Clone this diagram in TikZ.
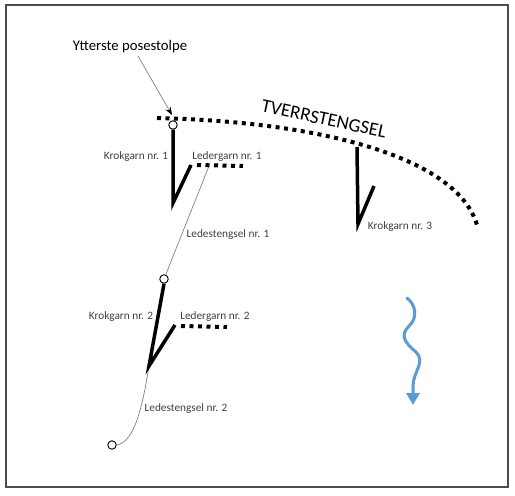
\documentclass[tikz,border=0pt]{standalone}
\usepackage{fontspec}
\setmainfont{Carlito}
\usetikzlibrary{arrows.meta}
\definecolor{lbl}{RGB}{64,64,64}
\definecolor{wave}{RGB}{91,155,213}
\begin{document}
\begin{tikzpicture}[x=1pt,y=-1pt,
  frame/.style={draw=black!70, line width=1.5pt},
  garn/.style={line width=3.5pt, line join=miter, line cap=butt},
  dotline/.style={line width=4pt, dash pattern=on 4pt off 4.5pt},
  stengsel/.style={draw=black!50, line width=0.7pt},
  post/.style={circle, draw, fill=white, line width=0.9pt, minimum size=8.5pt, inner sep=0pt},
  lab/.style={font=\fontsize{11.3}{13}\selectfont, text=lbl, inner sep=0pt},
  wavy/.style={draw=wave, line width=3pt, line cap=round, -{Triangle[length=12pt,width=13pt]}},
]
\useasboundingbox (0,0) rectangle (515,496);
\draw[frame] (6,5) rectangle (508,487);

% Tverrstengsel
\draw[dotline] (157,118) .. controls (330,122) and (458,160) .. (477,225);
\node[font=\fontsize{19}{21}\selectfont, rotate=-12, inner sep=0pt] (tv) at (324,119) {TVERRSTENGSEL};

% coordinates
\coordinate (k1b) at (173,203);
\coordinate (k1t) at (191,165);
\coordinate (l1s) at (197,165);
\coordinate (l1e) at (243,166);
\coordinate (ls1) at (209,166);
\coordinate (k2b) at (149,366);
\coordinate (k2t) at (175,325);
\coordinate (l2s) at (181,326);
\coordinate (l2e) at (227,327);
\coordinate (k3t) at (357,147);
\coordinate (k3b) at (358,224);
\coordinate (k3e) at (374,186);

% posts
\node[post] (p1) at (173,125) {};
\node[post] (p2) at (164,279) {};
\node[post] (p3) at (112,445) {};

% Ledestengsel
\draw[stengsel] (ls1) -- (p2);
\draw[stengsel] (k2b) .. controls (142,410) and (134,442) .. (p3.east);

% Krokgarn
\draw[garn] (p1.south) -- (k1b) -- (k1t);
\draw[garn] (p2.south) -- (k2b) -- (k2t);
\draw[garn] (k3t) -- (k3b) -- (k3e);

% Ledergarn
\draw[dotline] (l1s) -- (l1e);
\draw[dotline] (l2s) -- (l2e);

% Labels
\node[font=\fontsize{14.7}{16}\selectfont, inner sep=0pt] (ytt) at (130,47) {Ytterste posestolpe};
\coordinate (yt0) at (138,56);
\coordinate (yt1) at (172,115);
\draw[stengsel, -{Stealth[black,length=8pt,width=6pt]}] (yt0) -- (yt1);
\node[lab] (kg1) at (136,157) {Krokgarn nr. 1};
\node[lab] (lg1) at (227,157) {Ledergarn nr. 1};
\node[lab] (ls1l) at (228,235) {Ledestengsel nr. 1};
\node[lab] (kg2) at (121,317) {Krokgarn nr. 2};
\node[lab] (lg2) at (215,317) {Ledergarn nr. 2};
\node[lab] (ls2l) at (186,409) {Ledestengsel nr. 2};
\node[lab] (kg3) at (400,227) {Krokgarn nr. 3};

% blue wavy arrow
\coordinate (w0) at (407,298);
\coordinate (w1) at (413,405);
\draw[wavy] (w0) .. controls (416,305) and (418,318) .. (409,326)
  .. controls (400,335) and (404,342) .. (416,352)
  .. controls (426,362) and (413,372) .. (413,386) -- (w1);
\end{tikzpicture}
\end{document}
